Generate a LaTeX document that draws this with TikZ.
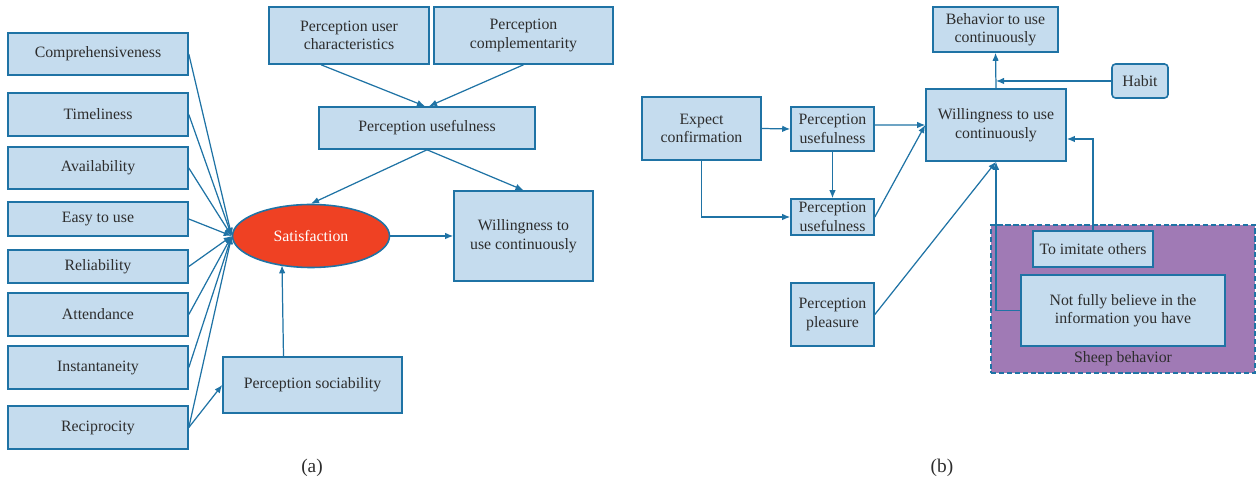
\documentclass[tikz,border=0pt]{standalone}
\usepackage{fontspec}
\setmainfont{Liberation Serif}
\usetikzlibrary{arrows.meta,positioning,calc,shapes.geometric}
\definecolor{boxfill}{RGB}{197,220,238}
\definecolor{edgeblue}{RGB}{31,115,165}
\definecolor{satred}{RGB}{239,65,35}
\definecolor{sheeppurple}{RGB}{160,122,181}
\definecolor{txtgray}{RGB}{45,45,45}

\begin{document}
\begin{tikzpicture}[
		box/.style={draw=edgeblue, fill=boxfill, line width=0.9pt, align=center,
			text=txtgray, font=\fontsize{9}{10.5}\selectfont, inner sep=1pt},
		arr/.style={draw=edgeblue, line width=0.7pt, -{Latex[length=1.6mm,width=1.3mm]}},
		link/.style={draw=edgeblue, line width=0.7pt}
	]
			\useasboundingbox (0,0) rectangle (25.12,-9.74);
			
			% (a) left column
			\node[box, minimum width=3.6cm, minimum height=0.84cm] (comp) at (1.96,-1.08) {Comprehensiveness};
			\node[box, minimum width=3.6cm, minimum height=0.86cm] (time) at (1.96,-2.29) {Timeliness};
			\node[box, minimum width=3.6cm, minimum height=0.84cm] (avail) at (1.96,-3.36) {Availability};
			\node[box, minimum width=3.6cm, minimum height=0.68cm] (easy) at (1.96,-4.38) {Easy to use};
			\node[box, minimum width=3.6cm, minimum height=0.66cm] (reli) at (1.96,-5.33) {Reliability};
			\node[box, minimum width=3.6cm, minimum height=0.86cm] (atten) at (1.96,-6.29) {Attendance};
			\node[box, minimum width=3.6cm, minimum height=0.86cm] (inst) at (1.96,-7.35) {Instantaneity};
			\node[box, minimum width=3.6cm, minimum height=0.86cm] (recip) at (1.96,-8.55) {Reciprocity};
			
			% (a) middle
			\node[ellipse, draw=edgeblue, fill=satred, line width=0.9pt, text=white,
				font=\fontsize{9}{10.5}\selectfont, minimum width=3.14cm, minimum height=1.26cm,
				inner sep=0pt] (sat) at (6.22,-4.72) {Satisfaction};
			\node[box, minimum width=3.58cm, minimum height=1.12cm] (soc) at (6.25,-7.7) {Perception sociability};
			\node[box, minimum width=3.2cm, minimum height=1.14cm] (puc) at (6.98,-0.71) {Perception user\\characteristics};
			\node[box, minimum width=3.58cm, minimum height=1.14cm] (pcomp) at (10.47,-0.71) {Perception\\complementarity};
			\node[box, minimum width=4.32cm, minimum height=0.84cm] (pua) at (8.54,-2.56) {Perception usefulness};
			\node[box, minimum width=2.78cm, minimum height=1.8cm] (willa) at (10.47,-4.72) {Willingness to\\use continuously};
			
			\foreach \src in {comp,time,avail,easy,reli,atten,inst,recip}
				\draw[arr] (\src.east) -- (sat.west);
			\draw[arr] (recip.east) -- (soc.west);
			\draw[arr] ([xshift=-0.58cm]soc.north) -- ([xshift=-0.58cm,yshift=0.06cm]sat.south);
			\draw[arr] ([xshift=-0.56cm]puc.south) -- ([xshift=-0.04cm]pua.north);
			\draw[arr] (pcomp.south) -- ([xshift=0.04cm]pua.north);
			\draw[arr] (pua.south) -- (sat.north);
			\draw[arr] (pua.south) -- (willa.north);
			\draw[arr] (sat.east) -- (willa.west);
			
			% (b)
			\node[box, minimum width=2.38cm, minimum height=1.26cm] (expc) at (14.03,-2.57) {Expect\\confirmation};
			\node[box, minimum width=1.66cm, minimum height=0.88cm] (puone) at (16.65,-2.58) {Perception\\usefulness};
			\node[box, minimum width=1.66cm, minimum height=0.72cm] (putwo) at (16.65,-4.34) {Perception\\usefulness};
			\node[box, minimum width=1.66cm, minimum height=1.26cm] (pleas) at (16.65,-6.29) {Perception\\pleasure};
			\node[box, minimum width=2.8cm, minimum height=1.44cm] (willb) at (19.92,-2.5) {Willingness to use\\continuously};
			\node[box, minimum width=2.5cm, minimum height=0.9cm] (behav) at (19.91,-0.59) {Behavior to use\\continuously};
			\node[box, rounded corners=2pt, minimum width=1.12cm, minimum height=0.68cm] (habit) at (22.8,-1.62) {Habit};
			
			\node[draw=edgeblue, fill=sheeppurple, dash pattern=on 3pt off 1.5pt, line width=0.9pt,
				minimum width=5.28cm, minimum height=2.96cm] (sheep) at (22.46,-5.98) {};
			\node[box, minimum width=2.4cm, minimum height=0.72cm] (imit) at (21.86,-4.98) {To imitate others};
			\node[box, minimum width=4.08cm, minimum height=1.42cm] (nfb) at (22.46,-6.21) {Not fully believe in the\\information you have};
			\node[anchor=south, text=txtgray, font=\fontsize{9}{10.5}\selectfont, inner sep=1pt]
				(sheeplbl) at ([yshift=0.12cm]sheep.south) {Sheep behavior};
			
			\draw[arr] (expc.east) -- (puone.west);
			\draw[arr] (expc.south) |- (putwo.west);
			\draw[arr] (puone.south) -- (putwo.north);
			\draw[arr] ([yshift=0.08cm]puone.east) -- (willb.west);
			\draw[arr] (putwo.east) -- (willb.west);
			\draw[arr] (pleas.east) -- (willb.south);
			\draw[arr] (nfb.west) -| (willb.south);
			\draw[arr] (willb.north) -- (behav.south);
			\draw[arr] (habit.west) -- (willb.north |- habit.west);
			\draw[arr] (imit.north) |- ([yshift=-0.28cm]willb.east);
			
			% captions
			\node[text=txtgray, font=\fontsize{11}{13}\selectfont] (capa) at (6.24,-9.36) {(a)};
			\node[text=txtgray, font=\fontsize{11}{13}\selectfont] (capb) at (18.84,-9.36) {(b)};
		\end{tikzpicture}
\end{document}
